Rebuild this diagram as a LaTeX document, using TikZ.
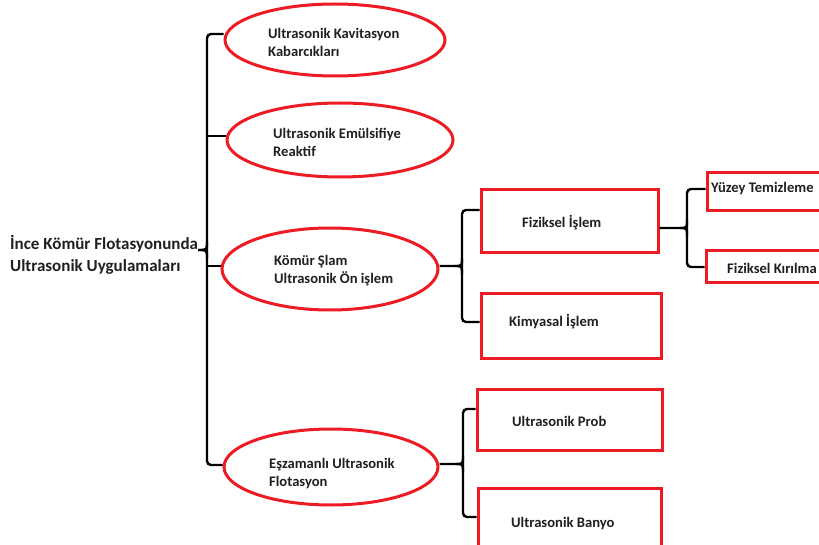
\documentclass[tikz,border=0pt]{standalone}
\usepackage{fontspec}
\setmainfont{Carlito}
\usetikzlibrary{shapes.geometric,calc}
\definecolor{bred}{RGB}{237,28,36}
\definecolor{txt}{RGB}{35,31,32}
\begin{document}
\begin{tikzpicture}[x=1pt,y=-1pt,
  oval/.style={ellipse,draw=bred,line width=3pt,inner sep=0pt},
  box/.style={rectangle,draw=bred,line width=3pt,inner sep=0pt},
  lab/.style={anchor=west,inner sep=0pt,font=\fontsize{14.6}{18}\selectfont\bfseries,text=txt,align=left},
  conn/.style={draw=black,line width=2.4pt,rounded corners=4pt}]
\useasboundingbox (0,0) rectangle (819,545);
\clip (0,0) rectangle (819,545);
\fill[white] (0,0) rectangle (819,545);
% main title
\node[lab,font=\fontsize{17}{22}\selectfont\bfseries] (main) at (10,255) {İnce Kömür Flotasyonunda\\Ultrasonik Uygulamaları};
% ellipses
\node[oval,minimum width=220pt,minimum height=72pt] (e1) at (335,40) {};
\node[oval,minimum width=226pt,minimum height=74pt] (e2) at (340,140) {};
\node[oval,minimum width=216pt,minimum height=82pt] (e3) at (330,269) {};
\node[oval,minimum width=214pt,minimum height=76pt] (e4) at (331,467) {};
\node[lab] (t1) at (268,42) {Ultrasonik Kavitasyon\\Kabarcıkları};
\node[lab] (t2) at (273,142) {Ultrasonik Emülsifiye\\Reaktif};
\node[lab] (t3) at (274,271) {Kömür Şlam\\Ultrasonik Ön işlem};
\node[lab] (t4) at (269,474) {Eşzamanlı Ultrasonik\\Flotasyon};
% rectangles
\node[box,minimum width=177pt,minimum height=63pt] (r1) at (569.5,221.5) {};
\node[box,minimum width=180pt,minimum height=64pt] (r2) at (571,326) {};
\node[box,minimum width=123pt,minimum height=38pt] (r3) at (768.5,192) {};
\node[box,minimum width=124pt,minimum height=32pt] (r4) at (768,267) {};
\node[box,minimum width=185pt,minimum height=61pt] (r5) at (569.5,419.5) {};
\node[box,minimum width=183pt,minimum height=72pt] (r6) at (569.5,524) {};
\node[lab] (u1) at (522,223) {Fiziksel İşlem};
\node[lab] (u2) at (509,322) {Kimyasal İşlem};
\node[lab] (u3) at (711,189) {Yüzey Temizleme};
\node[lab] (u4) at (727,268) {Fiziksel Kırılma};
\node[lab] (u5) at (512,421) {Ultrasonik Prob};
\node[lab] (u6) at (511,524) {Ultrasonik Banyo};
% main brace
\draw[conn] (e1.west |- 0,34) -- (207,34) -- (207,465) -- (e4.west |- 0,465);
\draw[conn] (e2.west |- 0,136) -- (207,136);
\draw[conn] (e3.west |- 0,266) -- (207,266);
\draw[line width=2.4pt] (main.east |- 0,250) .. controls (207,250) .. (207,242);
\draw[line width=2.4pt] (main.east |- 0,250) .. controls (207,250) .. (207,258);
% brace Kömür
\draw[conn] (r1.west |- 0,210) -- (462,210) -- (462,322) -- (r2.west |- 0,322);
\draw[line width=2.4pt] (e3.east |- 0,266) -- (455,266) .. controls (462,266) .. (462,258);
\draw[line width=2.4pt] (455,266) .. controls (462,266) .. (462,274);
% brace Fiziksel
\draw[conn] (r3.west |- 0,189) -- (687,189) -- (687,267) -- (r4.west |- 0,267);
\draw[line width=2.4pt] (r1.east |- 0,228) -- (680,228) .. controls (687,228) .. (687,220);
\draw[line width=2.4pt] (680,228) .. controls (687,228) .. (687,236);
% brace Eşzamanlı
\draw[conn] (r5.west |- 0,409) -- (463,409) -- (463,517) -- (r6.west |- 0,517);
\draw[line width=2.4pt] (e4.east |- 0,464) -- (456,464) .. controls (463,464) .. (463,456);
\draw[line width=2.4pt] (456,464) .. controls (463,464) .. (463,472);
\end{tikzpicture}
\end{document}
